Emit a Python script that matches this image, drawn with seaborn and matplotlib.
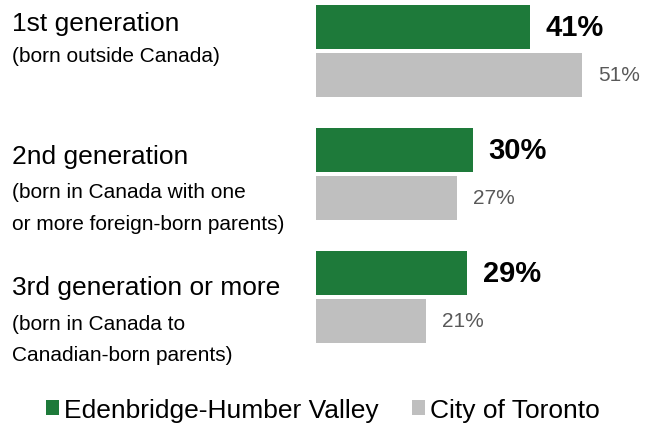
import numpy as np
import pandas as pd
import matplotlib
matplotlib.use("Agg")
import matplotlib.pyplot as plt
import matplotlib.transforms as mtransforms
import seaborn as sns

# Data
groups = ["1st generation", "2nd generation", "3rd generation or more"]
subtitles = [
    ["(born outside Canada)"],
    ["(born in Canada with one", "or more foreign-born parents)"],
    ["(born in Canada to", "Canadian-born parents)"],
]
areas = ["Edenbridge-Humber Valley", "City of Toronto"]
edenbridge = [41, 30, 29]
toronto = [51, 27, 21]

GREEN = "#1e7a3a"
GREY = "#bfbfbf"

df = pd.DataFrame({
    "group": groups * 2,
    "area": [areas[0]] * 3 + [areas[1]] * 3,
    "value": edenbridge + toronto,
})

sns.set_theme(style="white")
plt.rcParams["font.family"] = ["Liberation Sans", "DejaVu Sans"]
plt.rcParams["text.color"] = "black"

W, H = 654, 427
fig = plt.figure(figsize=(W / 100, H / 100), dpi=100)

# axes geometry in pixels
px_per_unit = 122.85
left_px, width_px, height_px = 316, 313.2, 360
ax = fig.add_axes([left_px / W, 1 - height_px / H, width_px / W, height_px / H])

sns.barplot(data=df, y="group", x="value", hue="area", orient="h",
            palette=[GREEN, GREY], saturation=1, width=0.78, gap=0.08,
            linewidth=0, ax=ax)

ax.set_xlim(0, width_px / 5.22)
top = -52.0 / px_per_unit
ax.set_ylim(top + height_px / px_per_unit, top)
ax.set_axis_off()

# value labels
ax.bar_label(ax.containers[0], fmt="%d%%", padding=11.5, fontsize=21,
             fontweight="bold", color="black")
ax.bar_label(ax.containers[1], fmt="%d%%", padding=11.5, fontsize=15,
             color="#595959")

# category labels on the left (baseline offsets per group, in data units)
trans = mtransforms.blended_transform_factory(fig.transFigure, ax.transData)
title_off = [-0.173, -0.090, -0.024]
sub_off = [[0.079], [0.186, 0.447], [0.261, 0.513]]
for i, g in enumerate(groups):
    ax.text(12 / W, i + title_off[i], g, transform=trans, fontsize=19,
            va="baseline", ha="left", color="black")
    for line, off in zip(subtitles[i], sub_off[i]):
        ax.text(12 / W, i + off, line, transform=trans, fontsize=15,
                va="baseline", ha="left", color="black")

# legend at the bottom
sns.move_legend(ax, "center", bbox_to_anchor=(323 / W, 1 - 411 / H),
                bbox_transform=fig.transFigure, ncol=2, title=None,
                frameon=False, fontsize=19, handlelength=0.5,
                handleheight=0.5, handletextpad=0.2, columnspacing=1.25,
                labelcolor="black")

fig.savefig("out.png", dpi=100)
